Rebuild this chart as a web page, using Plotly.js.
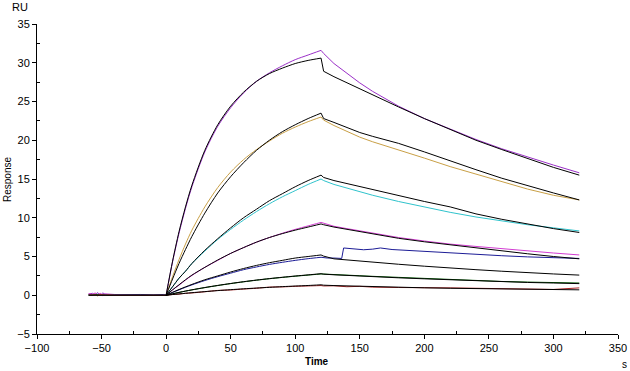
<!DOCTYPE html>
<html>
<head>
<meta charset="utf-8">
<script src="https://cdn.plot.ly/plotly-3.0.1.min.js"></script>
<style>html,body{margin:0;padding:0;background:#fff;}#chart{width:630px;height:371px;}</style>
</head>
<body>
<div id="chart"></div>
<script>
// ---- time bases (s) ----
var tB = [-60, -57, -55, -53, -51, -49, -47, -45, -40, -30, -20, -10, -2, 0];
var tA = [0, 5, 10, 15, 20, 30, 40, 50, 60, 70, 80, 90, 100, 110, 120];
var tD = [120, 122, 130, 140, 150, 160, 180, 200, 220, 240, 260, 280, 300, 320];
var tBlueD = [120, 125, 130, 136, 137.5, 145, 153, 160, 166, 175, 185, 199, 220, 243, 260, 280, 300, 320];
var fitBaseT = [-60, 0];
var fitBaseV = [0, 0];

// ---- measured curves (RU) ----
var pur1B = [0.15, 0.25, 0.05, 0.35, 0.0, 0.3, 0.1, 0.15, 0.1, 0.05, 0.05, 0.0, 0.05, 0];
var pur1A = [0, 4.3, 8.0, 11.2, 14.0, 18.5, 21.8, 24.2, 26.1, 27.6, 28.7, 29.6, 30.4, 31.0, 31.6];
var pur1D = [31.6, 31.2, 29.9, 28.6, 27.4, 26.3, 24.4, 22.8, 21.4, 20.1, 18.9, 17.8, 16.8, 15.8];

var ora2B = [0.1, 0.0, 0.2, -0.1, 0.15, 0.0, 0.1, 0.05, 0.0, 0.05, 0.0, 0.0, 0.0, 0];
var ora2A = [0, 2.4, 4.6, 6.6, 8.4, 11.4, 13.9, 15.9, 17.5, 18.8, 19.9, 20.9, 21.7, 22.4, 23.0];
var ora2D = [23.0, 22.6, 21.9, 21.1, 20.4, 19.8, 18.8, 17.7, 16.6, 15.6, 14.6, 13.7, 12.9, 12.3];

var cya3B = [0.05, 0.1, 0.0, 0.15, 0.05, 0.1, 0.0, 0.05, 0.0, 0.0, 0.05, 0.0, 0.0, 0];
var cya3A = [0, 1.1, 2.2, 3.1, 4.1, 5.7, 7.2, 8.5, 9.7, 10.8, 11.8, 12.7, 13.5, 14.3, 15.0];
var cya3D = [15.0, 14.8, 14.3, 13.8, 13.3, 12.9, 12.1, 11.4, 10.7, 10.1, 9.6, 9.1, 8.7, 8.3];

var mag4B = [0.2, 0.1, 0.3, 0.05, 0.25, -0.05, 0.2, 0.1, 0.05, 0.05, 0.0, 0.05, 0.0, 0];
var mag4A = [0, 0.7, 1.3, 1.95, 2.55, 3.6, 4.5, 5.4, 6.15, 6.85, 7.45, 8.0, 8.5, 8.95, 9.4];
var mag4D = [9.4, 9.3, 8.9, 8.6, 8.3, 8.0, 7.45, 7.0, 6.6, 6.3, 6.0, 5.7, 5.45, 5.2];

var blu5B = [0.05, 0.0, 0.1, 0.0, 0.05, 0.0, 0.05, 0.0, 0.05, 0.12, 0.1, 0.05, 0.1, 0];
var blu5A = [0, 0.36, 0.7, 1.03, 1.34, 1.9, 2.4, 2.85, 3.3, 3.65, 3.98, 4.25, 4.5, 4.72, 4.9];
var blu5D = [4.9, 4.8, 4.8, 4.75, 6.1, 6.0, 5.87, 5.95, 6.1, 5.9, 5.8, 5.65, 5.45, 5.2, 5.1, 4.95, 4.85, 4.75];

var gre6B = [0.0, 0.05, 0.0, 0.1, 0.0, 0.05, 0.0, 0.0, 0.05, 0.0, 0.0, 0.0, 0.0, 0];
var gre6A = [0, 0.18, 0.36, 0.53, 0.69, 0.98, 1.25, 1.5, 1.73, 1.94, 2.13, 2.3, 2.46, 2.6, 2.75];
var gre6D = [2.75, 2.74, 2.68, 2.6, 2.52, 2.44, 2.3, 2.17, 2.05, 1.88, 1.78, 1.7, 1.62, 1.58];

var red7B = [0.05, 0.0, 0.05, 0.0, 0.1, 0.0, 0.0, 0.05, 0.0, 0.0, 0.0, 0.0, 0.0, 0];
var red7A = [0, 0.1, 0.15, 0.25, 0.3, 0.45, 0.62, 0.68, 0.8, 0.9, 1.05, 1.08, 1.15, 1.2, 1.25];
var red7D = [1.25, 1.2, 1.22, 1.1, 1.15, 1.05, 1.0, 1.02, 0.95, 0.9, 0.85, 0.8, 0.75, 0.95];

// ---- fitted curves (RU) ----
var fit1A = [0, 4.4, 8.2, 11.4, 14.2, 18.7, 22.0, 24.4, 26.2, 27.6, 28.6, 29.3, 29.9, 30.3, 30.6];
var fit1D = [30.6, 28.9, 28.2, 27.4, 26.6, 25.8, 24.3, 22.8, 21.4, 20.0, 18.8, 17.6, 16.5, 15.5];
var fit2A = [0, 2.1, 4.1, 5.9, 7.6, 10.6, 13.2, 15.3, 17.1, 18.7, 20.0, 21.1, 22.0, 22.8, 23.5];
var fit2D = [23.5, 22.8, 22.3, 21.6, 21.0, 20.5, 19.6, 18.5, 17.4, 16.2, 15.1, 14.1, 13.2, 12.3];
var fit3A = [0, 1.1, 2.2, 3.1, 4.1, 5.8, 7.3, 8.7, 10.0, 11.1, 12.2, 13.1, 14.0, 14.8, 15.5];
var fit3D = [15.5, 15.2, 14.8, 14.4, 14.0, 13.6, 12.8, 12.1, 11.4, 10.5, 9.8, 9.2, 8.6, 8.1];
var fit4A = [0, 0.7, 1.35, 2.0, 2.6, 3.6, 4.55, 5.4, 6.15, 6.85, 7.45, 7.95, 8.4, 8.8, 9.2];
var fit4D = [9.2, 9.1, 8.8, 8.5, 8.2, 7.9, 7.35, 6.9, 6.5, 6.1, 5.7, 5.35, 5.0, 4.7];
var fit5A = [0, 0.38, 0.74, 1.08, 1.4, 2.0, 2.5, 3.0, 3.45, 3.85, 4.2, 4.5, 4.8, 5.0, 5.2];
var fit5D = [5.2, 5.05, 4.7, 4.55, 4.4, 4.25, 4.0, 3.75, 3.5, 3.3, 3.1, 2.9, 2.75, 2.6];
var fit6A = [0, 0.19, 0.37, 0.54, 0.7, 1.0, 1.27, 1.52, 1.75, 1.96, 2.15, 2.32, 2.48, 2.63, 2.78];
var fit6D = [2.78, 2.72, 2.64, 2.55, 2.47, 2.39, 2.25, 2.12, 2.0, 1.82, 1.72, 1.65, 1.58, 1.5];
var fit7A = [0, 0.09, 0.17, 0.25, 0.33, 0.47, 0.6, 0.72, 0.83, 0.93, 1.02, 1.11, 1.19, 1.26, 1.35];
var fit7D = [1.35, 1.3, 1.25, 1.2, 1.15, 1.1, 1.02, 0.96, 0.9, 0.85, 0.8, 0.76, 0.73, 0.7];

var measured = [
  {B: pur1B, A: pur1A, D: pur1D, tD: tD, c: '#9b30c8'},
  {B: ora2B, A: ora2A, D: ora2D, tD: tD, c: '#c9a046'},
  {B: cya3B, A: cya3A, D: cya3D, tD: tD, c: '#2fc3cc'},
  {B: mag4B, A: mag4A, D: mag4D, tD: tD, c: '#d23cd2'},
  {B: blu5B, A: blu5A, D: blu5D, tD: tBlueD, c: '#1c1c96'},
  {B: gre6B, A: gre6A, D: gre6D, tD: tD, c: '#005a00'},
  {B: red7B, A: red7A, D: red7D, tD: tD, c: '#a52020'}
];
var fits = [[fit1A, fit1D], [fit2A, fit2D], [fit3A, fit3D], [fit4A, fit4D], [fit5A, fit5D], [fit6A, fit6D], [fit7A, fit7D]];

var traces = [];
measured.forEach(function (m) {
  var ln = {color: m.c, width: 1};
  traces.push({x: tB, y: m.B, mode: 'lines', line: ln, hoverinfo: 'skip'});
  traces.push({x: tA, y: m.A, mode: 'lines', line: {color: m.c, width: 1, shape: 'spline', smoothing: 0.8}, hoverinfo: 'skip'});
  traces.push({x: m.tD, y: m.D, mode: 'lines', line: ln, hoverinfo: 'skip'});
});
traces.push({x: fitBaseT, y: fitBaseV, mode: 'lines', line: {color: '#000', width: 1}, hoverinfo: 'skip'});
fits.forEach(function (f) {
  traces.push({x: tA, y: f[0], mode: 'lines', line: {color: '#000', width: 1, shape: 'spline', smoothing: 0.8}, hoverinfo: 'skip'});
  traces.push({x: tD, y: f[1], mode: 'lines', line: {color: '#000', width: 1}, hoverinfo: 'skip'});
});

var fnt = {family: 'Liberation Sans, Arial, sans-serif', size: 11, color: '#000'};
function ann(text, px, py, size, angle) {
  // px, py: pixel position in the 630x371 page, converted to paper coordinates
  return {text: text, xref: 'paper', yref: 'paper', x: (px - 37) / 581, y: (334 - py) / 310,
    xanchor: 'center', yanchor: 'middle', showarrow: false, textangle: angle || 0,
    font: {family: fnt.family, size: size, color: '#000'}};
}
var layout = {
  width: 630, height: 371,
  margin: {l: 37, r: 12, t: 24, b: 37},
  paper_bgcolor: '#fff', plot_bgcolor: '#fff',
  showlegend: false,
  font: fnt,
  xaxis: {
    range: [-100, 350], tickvals: [-100, -50, 0, 50, 100, 150, 200, 250, 300, 350],
    showline: true, linecolor: '#000', linewidth: 1, showgrid: false, zeroline: false,
    ticks: 'outside', ticklen: 4, tickcolor: '#000', tickfont: fnt,
    minor: {tickvals: [-75, -25, 25, 75, 125, 175, 225, 275, 325], ticks: 'inside', ticklen: 3, tickcolor: '#000', showgrid: false}
  },
  yaxis: {
    range: [-5, 35], tickvals: [-5, 0, 5, 10, 15, 20, 25, 30, 35],
    showline: true, linecolor: '#000', linewidth: 1, showgrid: false, zeroline: false,
    ticks: 'outside', ticklen: 4, tickcolor: '#000', tickfont: fnt,
    minor: {tickvals: [-2.5, 2.5, 7.5, 12.5, 17.5, 22.5, 27.5, 32.5], ticks: 'inside', ticklen: 3, tickcolor: '#000', showgrid: false}
  },
  annotations: [
    ann('RU', 20, 7, 11),
    ann('s', 624, 364, 10),
    ann('<b>Time</b>', 317, 361, 10),
    ann('Response', 8, 180, 10, -90)
  ]
};
Plotly.newPlot('chart', traces, layout, {staticPlot: true, displayModeBar: false});
</script>
</body>
</html>
